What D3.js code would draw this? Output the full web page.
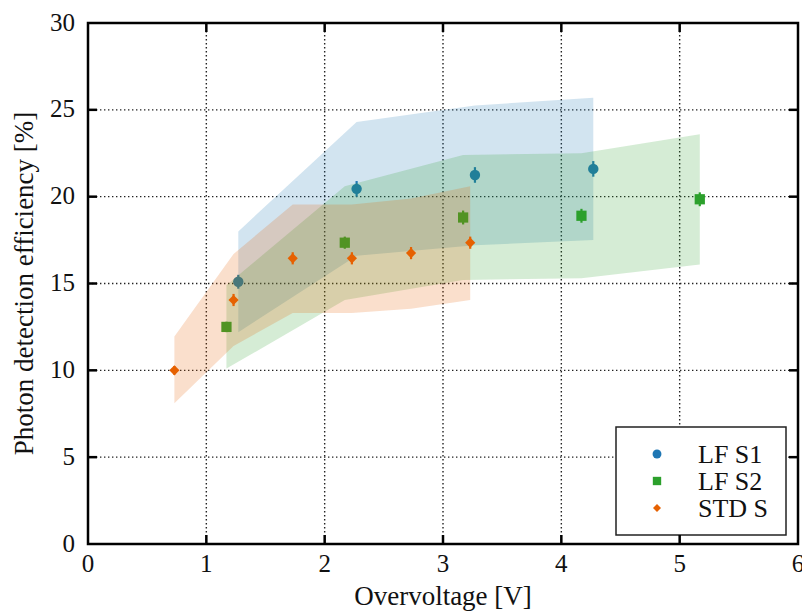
<!DOCTYPE html>
<html>
<head>
<meta charset="utf-8">
<script src="https://cdn.jsdelivr.net/npm/d3@7"></script>
<style>
    body { margin: 0; background: #fff; }
    svg text { font-family: "Liberation Serif", "Times New Roman", serif; fill: #111; }
</style>
</head>
<body>
<svg id="chart" width="802" height="613"></svg>
<script>
// data
var s1X = [1.27, 2.27, 3.27, 4.27];
var s1Y = [15.1, 20.45, 21.25, 21.6];
var s1Err = [0.4, 0.45, 0.45, 0.45];
var s1Low = [12.2, 16.6, 17.2, 17.5];
var s1High = [18.0, 24.3, 25.25, 25.7];

var s2X = [1.17, 2.17, 3.17, 4.17, 5.17];
var s2Y = [12.5, 17.35, 18.8, 18.9, 19.85];
var s2Err = [0.3, 0.35, 0.4, 0.4, 0.4];
var s2Low = [10.1, 14.05, 15.2, 15.3, 16.1];
var s2High = [14.9, 20.6, 22.4, 22.5, 23.6];

var s3X = [0.73, 1.23, 1.73, 2.23, 2.73, 3.23];
var s3Y = [10.0, 14.05, 16.45, 16.45, 16.75, 17.35];
var s3Err = [0.25, 0.35, 0.35, 0.35, 0.35, 0.35];
var s3Low = [8.1, 11.4, 13.3, 13.3, 13.55, 14.05];
var s3High = [11.95, 16.7, 19.55, 19.55, 19.9, 20.6];

var seriesNames = ['LF S1', 'LF S2', 'STD S'];
var seriesColors = ['#1f77b4', '#2ca02c', '#e66101'];
var seriesShapes = ['circle', 'square', 'diamond'];

var xTicks = [0, 1, 2, 3, 4, 5, 6];
var yTicks = [0, 5, 10, 15, 20, 25, 30];

var svg = d3.select('#chart');
// 注意: top 是 window 保留字段, 换个名字
var pLeft = 88, pRight = 798, pTop = 23, pBottom = 544;

var x = d3.scaleLinear().domain([0, 6]).range([pLeft, pRight]);
var y = d3.scaleLinear().domain([0, 30]).range([pBottom, pTop]);

//网格
var grid = svg.append('g').attr('class', 'grid')
    .attr('stroke', '#222').attr('stroke-width', 1.4).attr('stroke-dasharray', '1.4,2.6');
grid.selectAll('line.gx').data(xTicks.slice(1, -1)).enter().append('line')
    .attr('x1', function (d) { return x(d); }).attr('x2', function (d) { return x(d); })
    .attr('y1', pTop).attr('y2', pBottom);
grid.selectAll('line.gy').data(yTicks.slice(1, -1)).enter().append('line')
    .attr('y1', function (d) { return y(d); }).attr('y2', function (d) { return y(d); })
    .attr('x1', pLeft).attr('x2', pRight);

var series = [
    {xs: s1X, ys: s1Y, err: s1Err, lo: s1Low, hi: s1High},
    {xs: s2X, ys: s2Y, err: s2Err, lo: s2Low, hi: s2High},
    {xs: s3X, ys: s3Y, err: s3Err, lo: s3Low, hi: s3High}
];

var area = d3.area()
    .x(function (d) { return x(d.x); })
    .y0(function (d) { return y(d.lo); })
    .y1(function (d) { return y(d.hi); });

// 菱形用旋转45度的正方形
function symbolFor(shape, size) {
    var type = shape == 'circle' ? d3.symbolCircle : d3.symbolSquare;
    return d3.symbol().type(type).size(size)();
}
function rotFor(shape) {
    return shape == 'diamond' ? ' rotate(45)' : '';
}

//每个系列: 误差带, 误差棒, 点
series.forEach(function (s, i) {
    var color = seriesColors[i];
    var shape = seriesShapes[i];
    var rows = s.xs.map(function (v, j) {
        return {x: v, y: s.ys[j], e: s.err[j], lo: s.lo[j], hi: s.hi[j]};
    });
    var g = svg.append('g').attr('class', 'series-' + i);
    g.append('path')
        .datum(rows)
        .attr('d', area)
        .attr('fill', color)
        .attr('fill-opacity', 0.2);
    g.selectAll('line.err').data(rows).enter().append('line')
        .attr('x1', function (d) { return x(d.x); })
        .attr('x2', function (d) { return x(d.x); })
        .attr('y1', function (d) { return y(d.y - d.e); })
        .attr('y2', function (d) { return y(d.y + d.e); })
        .attr('stroke', color)
        .attr('stroke-width', 2.2);
    var size = shape == 'circle' ? 85 : (shape == 'square' ? 105 : 52);
    g.selectAll('path.pt').data(rows).enter().append('path')
        .attr('class', 'pt')
        .attr('transform', function (d) { return 'translate(' + x(d.x) + ',' + y(d.y) + ')' + rotFor(shape); })
        .attr('d', symbolFor(shape, size))
        .attr('fill', color);
});

//图例
var legend = svg.append('g').attr('class', 'legend');
legend.append('rect')
    .attr('x', 616).attr('y', 427).attr('width', 170).attr('height', 108)
    .attr('fill', '#fff').attr('stroke', '#222').attr('stroke-width', 1.5);
seriesNames.forEach(function (name, i) {
    var ry = 454 + i * 27;
    var shape = seriesShapes[i];
    var size = shape == 'circle' ? 62 : (shape == 'square' ? 70 : 32);
    legend.append('path')
        .attr('transform', 'translate(657,' + ry + ')' + rotFor(shape))
        .attr('d', symbolFor(shape, size))
        .attr('fill', seriesColors[i]);
    legend.append('text')
        .attr('x', 698).attr('y', ry).attr('dy', '0.33em')
        .attr('font-size', 26)
        .text(name);
});

//边框和刻度
var frame = svg.append('g').attr('stroke', '#000').attr('stroke-width', 2.5).attr('fill', 'none');
frame.append('rect').attr('x', pLeft).attr('y', pTop).attr('width', pRight - pLeft).attr('height', pBottom - pTop);
xTicks.slice(1, -1).forEach(function (t) {
    frame.append('line').attr('x1', x(t)).attr('x2', x(t)).attr('y1', pBottom).attr('y2', pBottom - 9);
    frame.append('line').attr('x1', x(t)).attr('x2', x(t)).attr('y1', pTop).attr('y2', pTop + 9);
});
yTicks.slice(1, -1).forEach(function (t) {
    frame.append('line').attr('y1', y(t)).attr('y2', y(t)).attr('x1', pLeft).attr('x2', pLeft + 9);
    frame.append('line').attr('y1', y(t)).attr('y2', y(t)).attr('x1', pRight).attr('x2', pRight - 9);
});

svg.append('g').selectAll('text').data(xTicks).enter().append('text')
    .attr('x', function (d) { return x(d); })
    .attr('y', pBottom + 28)
    .attr('text-anchor', 'middle')
    .attr('font-size', 25)
    .text(function (d) { return d; });
svg.append('g').selectAll('text').data(yTicks).enter().append('text')
    .attr('x', 75)
    .attr('y', function (d) { return y(d); })
    .attr('dy', '0.3em')
    .attr('text-anchor', 'end')
    .attr('font-size', 25)
    .text(function (d) { return d; });

svg.append('text')
    .attr('x', (pLeft + pRight) / 2).attr('y', 605)
    .attr('text-anchor', 'middle')
    .attr('font-size', 27)
    .text('Overvoltage [V]');
svg.append('text')
    .attr('transform', 'translate(33,' + ((pTop + pBottom) / 2) + ') rotate(-90)')
    .attr('text-anchor', 'middle')
    .attr('font-size', 27)
    .text('Photon detection efficiency [%]');
</script>
</body>
</html>
